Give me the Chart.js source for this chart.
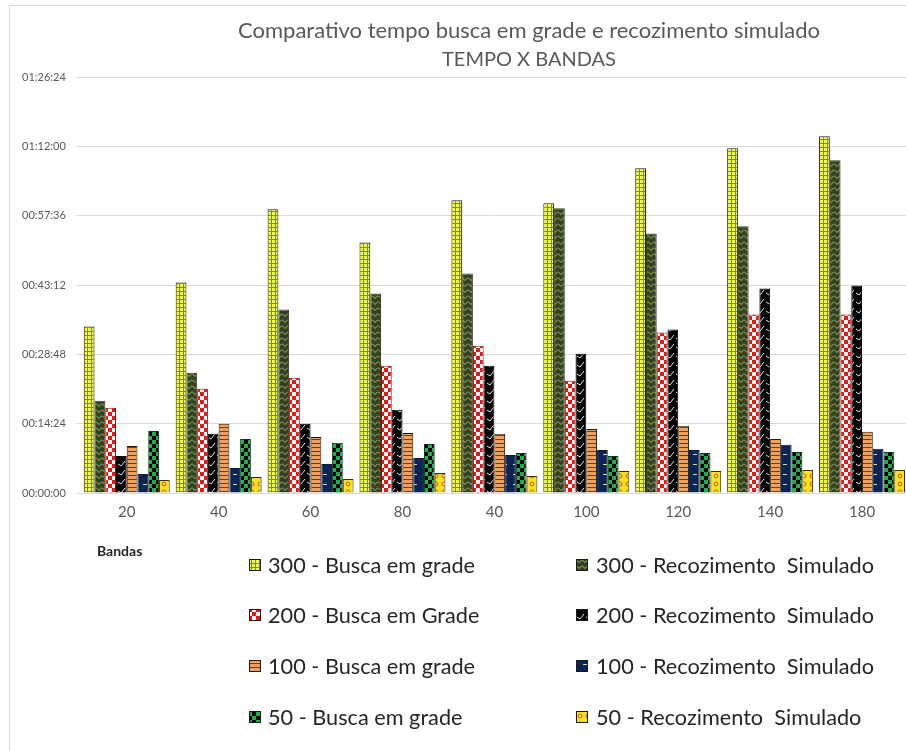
<!DOCTYPE html>
<html>
<head>
<meta charset="utf-8">
<script src="https://cdn.jsdelivr.net/npm/chart.js@4/dist/chart.umd.min.js"></script>
<style>
  html, body { margin: 0; padding: 0; background: #fff; overflow: hidden; width: 906px; height: 751px; }
  #wrap { position: relative; width: 930px; height: 751px; }
</style>
</head>
<body>
<div id="wrap"><canvas id="c" width="930" height="751"></canvas></div>
<script>
// Bands on the x axis
const bandas = ['20', '40', '60', '80', '40', '100', '120', '140', '180'];

// Run times in seconds
const busca300 = [2074, 2623, 3535, 3123, 3647, 3610, 4047, 4297, 4447];
const recoz300 = [1149, 1499, 2286, 2486, 2735, 3547, 3235, 3323, 4147];
const busca200 = [1062, 1299, 1436, 1586, 1836, 1399, 1999, 2223, 2223];
const recoz200 = [462, 737, 862, 1037, 1586, 1736, 2036, 2548, 2586];
const busca100 = [587, 862, 699, 749, 737, 799, 837, 674, 762];
const recoz100 = [237, 312, 362, 437, 475, 537, 537, 600, 550];
const busca50 = [774, 674, 625, 612, 500, 462, 500, 512, 512];
const recoz50 = [162, 200, 175, 250, 212, 275, 275, 287, 287];

const seriesNames = [
  '300 - Busca em grade', '300 - Recozimento  Simulado',
  '200 - Busca em Grade', '200 - Recozimento  Simulado',
  '100 - Busca em grade', '100 - Recozimento  Simulado',
  '50 - Busca em grade', '50 - Recozimento  Simulado'
];

// Y axis: 0 to 01:26:24 in steps of 00:14:24
const yMax = 5184;
const yStep = 864;

function hms(v) {
  const h = Math.floor(v / 3600), m = Math.floor((v % 3600) / 60), s = Math.round(v % 60);
  const p = n => String(n).padStart(2, '0');
  return p(h) + ':' + p(m) + ':' + p(s);
}

// ---- fill patterns ----
function tile(w, h, draw) {
  const c = document.createElement('canvas');
  c.width = w; c.height = h;
  const g = c.getContext('2d');
  draw(g, w, h);
  return c;
}
const ctx0 = document.getElementById('c').getContext('2d');
function pat(w, h, draw) { return ctx0.createPattern(tile(w, h, draw), 'repeat'); }

const pGrid = pat(4, 4, (g) => {           // yellow squares on olive grid
  g.fillStyle = '#7d8c3a'; g.fillRect(0, 0, 4, 4);
  g.fillStyle = '#f4f83a'; g.fillRect(0, 0, 3, 3);
});
const pZig = pat(6, 6, (g) => {            // light zigzag on dark olive
  g.fillStyle = '#344220'; g.fillRect(0, 0, 6, 6);
  g.strokeStyle = '#a9b970'; g.lineWidth = 1;
  g.beginPath(); g.moveTo(0, 1.5); g.lineTo(3, 4.5); g.lineTo(6, 1.5); g.stroke();
});
const pCheckRed = pat(8, 8, (g) => {       // red / white checkerboard
  g.fillStyle = '#ffffff'; g.fillRect(0, 0, 8, 8);
  g.fillStyle = '#f21414'; g.fillRect(0, 0, 4, 4); g.fillRect(4, 4, 4, 4);
});
const pBlackY = pat(9, 9, (g) => {         // white strokes on black
  g.fillStyle = '#000000'; g.fillRect(0, 0, 9, 9);
  g.strokeStyle = '#e8e8e8'; g.lineWidth = 1;
  g.beginPath(); g.moveTo(1, 5); g.lineTo(4, 7); g.lineTo(8, 2); g.stroke();
});
const pBrick = pat(4, 4, (g) => {          // orange with dark horizontal lines
  g.fillStyle = '#f0a05a'; g.fillRect(0, 0, 4, 4);
  g.fillStyle = '#6a3f1e'; g.fillRect(0, 3, 4, 1);
});
const pNavy = pat(10, 10, (g) => {         // navy with small pale dashes
  g.fillStyle = '#0b2456'; g.fillRect(0, 0, 10, 10);
  g.fillStyle = '#d8d890'; g.fillRect(3, 4, 4, 1);
});
const pCheckGreen = pat(8, 8, (g) => {     // green / black checkerboard
  g.fillStyle = '#000000'; g.fillRect(0, 0, 8, 8);
  g.fillStyle = '#1fae4c'; g.fillRect(0, 0, 4, 4); g.fillRect(4, 4, 4, 4);
});
const pDots = pat(8, 8, (g) => {           // yellow with orange rings
  g.fillStyle = '#fbe21e'; g.fillRect(0, 0, 8, 8);
  g.strokeStyle = '#c8601e'; g.lineWidth = 1;
  g.beginPath(); g.arc(4, 4, 2, 0, Math.PI * 2); g.stroke();
});

const fills = [pGrid, pZig, pCheckRed, pBlackY, pBrick, pNavy, pCheckGreen, pDots];
const borders = ['#1a1a1a', '#344220', '#7a1010', '#000000', '#1a1a1a', '#0b1a3a', '#0a3a18', '#3a2a10'];
const values = [busca300, recoz300, busca200, recoz200, busca100, recoz100, busca50, recoz50];

const datasets = values.map((v, i) => ({
  label: seriesNames[i],
  data: v,
  backgroundColor: fills[i],
  borderColor: borders[i],
  borderWidth: 1,
  barPercentage: 1,
  categoryPercentage: 0.935
}));

// Title, axis caption, two-column legend and frame
const decor = {
  id: 'decor',
  beforeDraw(chart) {
    const g = chart.ctx;
    g.save();
    g.fillStyle = '#ffffff';
    g.fillRect(0, 0, chart.width, chart.height);
    g.strokeStyle = '#d9d9d9'; g.lineWidth = 1;
    g.strokeRect(9.5, 5.5, 1000, 1000);
    g.restore();
  },
  afterDraw(chart) {
    const g = chart.ctx;
    g.save();
    g.fillStyle = '#595959';
    g.textAlign = 'center'; g.textBaseline = 'middle';
    g.font = '22px Lato';
    g.fillText('Comparativo tempo busca em grade e recozimento simulado', 529, 31);
    g.font = '20px Lato';
    g.fillText('TEMPO X BANDAS', 529, 60);

    g.fillStyle = '#262626';
    g.font = 'bold 14px Lato';
    g.textAlign = 'left';
    g.fillText('Bandas', 97, 551);

    g.font = '21.7px Lato';
    const rows = [565, 615, 666, 717];
    const cols = [{ box: 249, text: 268 }, { box: 576, text: 596 }];
    chart.data.datasets.forEach((ds, i) => {
      const col = cols[i % 2], y = rows[Math.floor(i / 2)];
      g.fillStyle = ds.backgroundColor;
      g.fillRect(col.box, y - 6, 12, 12);
      g.strokeStyle = '#1a1a1a'; g.lineWidth = 1;
      g.strokeRect(col.box + 0.5, y - 5.5, 11, 11);
      g.fillStyle = '#262626';
      g.fillText(ds.label, col.text, y + 1);
    });
    g.restore();
  }
};

new Chart(document.getElementById('c'), {
  type: 'bar',
  data: { labels: bandas, datasets },
  options: {
    responsive: false,
    animation: false,
    devicePixelRatio: 1,
    layout: { padding: { top: 77, left: 11, right: 22, bottom: 228 } },
    plugins: { legend: { display: false }, title: { display: false }, tooltip: { enabled: false } },
    scales: {
      x: {
        grid: { display: false },
        border: { display: false },
        ticks: { color: '#595959', font: { family: 'Lato', size: 15 }, padding: 2 }
      },
      y: {
        min: 0, max: yMax,
        border: { display: false },
        grid: { color: '#d9d9d9', tickLength: 4 },
        ticks: {
          stepSize: yStep,
          color: '#595959',
          font: { family: 'Lato', size: 11 },
          padding: 11,
          callback: v => hms(v)
        }
      }
    }
  },
  plugins: [decor]
});
</script>
</body>
</html>
